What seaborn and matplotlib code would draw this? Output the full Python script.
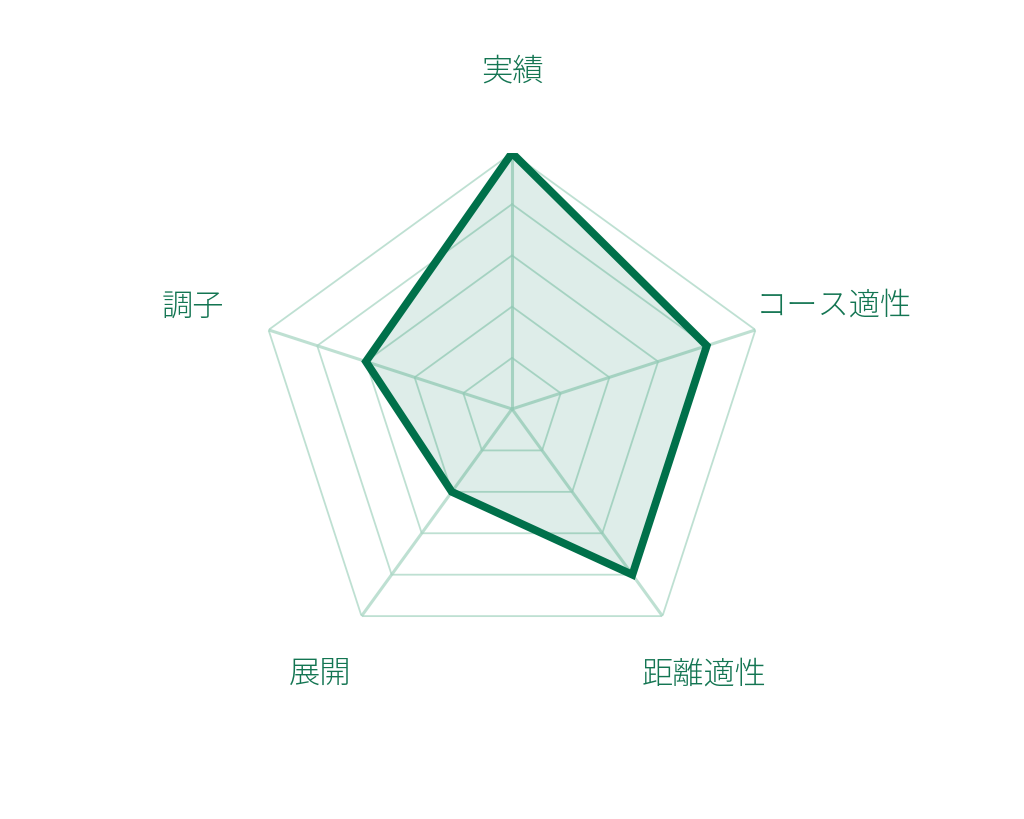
import numpy as np
import matplotlib.pyplot as plt
import seaborn as sns

# 評価項目と値 (5段階)
categories = ['実績', 'コース適性', '距離適性', '展開', '調子']
values = [5, 4, 4, 2, 3]
ring_levels = [1, 2, 3, 4, 5]

line_color = '#00704a'
grid_color = '#a9d6c4'
text_color = '#137552'

sns.set_theme(style='white')
plt.rcParams['font.family'] = ['Noto Sans CJK JP', 'DejaVu Sans']

n = len(categories)
# 上から時計回り
angles = [np.pi / 2 - 2 * np.pi * i / n for i in range(n)]
angles_closed = angles + angles[:1]
values_closed = values + values[:1]

fig = plt.figure(figsize=(10.24, 8.2), dpi=100)
ax = fig.add_axes([0.25, 0.1878, 0.5, 0.6244], projection='polar')
ax.set_ylim(0, 5)
ax.grid(False)
ax.spines['polar'].set_visible(False)
ax.set_xticks([])
ax.set_yticks([])
ax.patch.set_alpha(0)

# 五角形のグリッド
for lv in ring_levels:
    ax.plot(angles_closed, [lv] * (n + 1), color=grid_color, lw=1.3, alpha=0.75, zorder=1)
for a in angles:
    ax.plot([a, a], [0, ring_levels[-1]], color=grid_color, lw=2.2, alpha=0.75, zorder=1)

# データ
ax.fill(angles_closed, values_closed, color='#007a55', alpha=0.13, lw=0, zorder=2)
sns.lineplot(x=angles_closed, y=values_closed, sort=False, estimator=None, ax=ax,
             color=line_color, lw=5.6, zorder=3)
ax.lines[-1].set_solid_joinstyle('miter')

# ラベル
label_r = [6.62, 6.6, 6.38, 6.38, 6.55]
for a, lab, r in zip(angles, categories, label_r):
    ax.text(a, r, lab, ha='center', va='center', fontsize=22.5, fontweight='light',
            color=text_color, clip_on=False)

fig.savefig('out.png', dpi=100, facecolor='white')
